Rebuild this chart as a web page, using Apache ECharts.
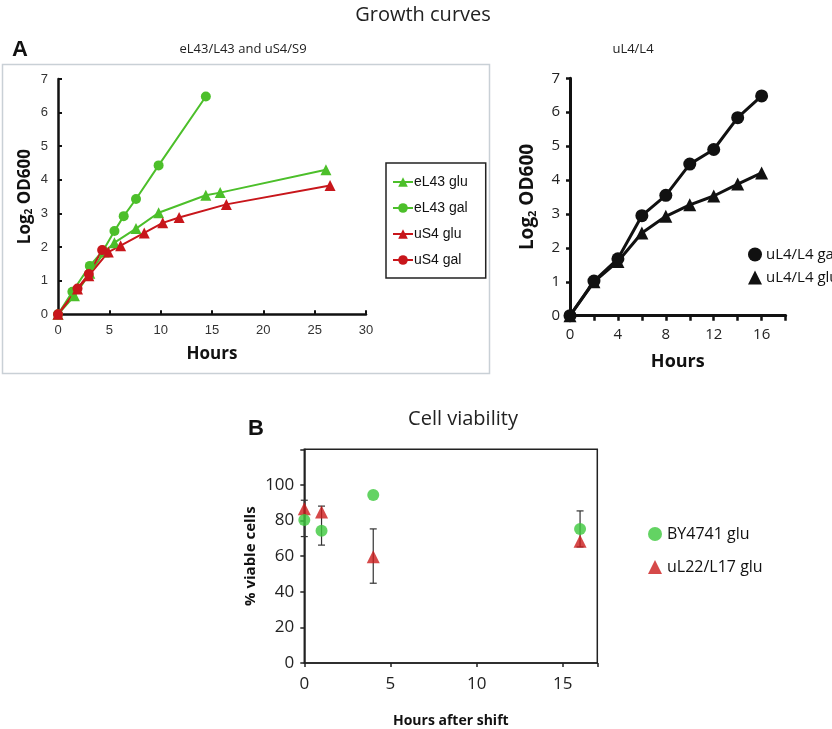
<!DOCTYPE html>
<html><head><meta charset="utf-8">
<script src="https://cdn.jsdelivr.net/npm/echarts@6/dist/echarts.min.js"></script>
<style>html,body{margin:0;padding:0;background:#fff}#c{width:832px;height:729px}</style>
</head><body><div id="c"></div>
<script>
// ---- Panel A left: eL43/L43 and uS4/S9 ----
var eL43GluX = [0, 1.6, 3.1, 4.5, 5.5, 7.6, 9.8, 14.4, 15.8, 26.1];
var eL43GluY = [0, 0.55, 1.22, 1.85, 2.13, 2.55, 3.02, 3.54, 3.62, 4.3];
var eL43GalX = [0, 1.4, 3.1, 4.4, 5.5, 6.4, 7.6, 9.8, 14.4];
var eL43GalY = [0, 0.67, 1.44, 1.9, 2.48, 2.92, 3.43, 4.43, 6.48];
var uS4GluX = [0, 1.9, 3.0, 4.9, 6.1, 8.4, 10.2, 11.8, 16.4, 26.5];
var uS4GluY = [0, 0.75, 1.15, 1.85, 2.04, 2.42, 2.72, 2.88, 3.27, 3.83];
var uS4GalX = [0, 1.9, 3.0, 4.3];
var uS4GalY = [0, 0.77, 1.2, 1.91];
// ---- Panel A right: uL4/L4 ----
var uL4Hours = [0, 2, 4, 6, 8, 10, 12, 14, 16];
var uL4Gal = [0, 1.02, 1.68, 2.95, 3.55, 4.47, 4.9, 5.84, 6.48];
var uL4Glu = [0, 1.0, 1.6, 2.44, 2.93, 3.27, 3.53, 3.88, 4.21];
// ---- Panel B: Cell viability ----
var viabHours = [0, 1, 4, 16];
var by4741 = [80.3, 74.3, 94.3, 75.2];
var uL22 = [86.6, 84.8, 59.7, 68.3];
var errLow = [71, 66.2, 44.8, 65.2];
var errHigh = [91.4, 88.1, 75.3, 85.4];

function zip(xs, ys) { return xs.map(function (x, i) { return [x, ys[i]]; }); }

var GREEN = '#4cbf2a', RED = '#c8161b', GREEN_B = '#3cc83c', RED_B = '#cc1c1c';
var SANS = '"Open Sans", "Noto Sans", sans-serif';
var ARIAL = '"Liberation Sans", Arial, sans-serif';

var chart = echarts.init(document.getElementById('c'), null, {renderer: 'canvas'});

function logRich(big, small) {
  return {
    a: {fontFamily: SANS, fontWeight: 'bold', fontSize: big, color: '#111'},
    s: {fontFamily: SANS, fontWeight: 'bold', fontSize: small, color: '#111', padding: [Math.round(big * 0.45), 0, 0, 0]}
  };
}

var option = {
  backgroundColor: '#fff',
  animation: false,
  title: [
    {text: 'Growth curves', left: 418, top: 0, textAlign: 'center', textStyle: {fontFamily: SANS, fontSize: 20, fontWeight: 'normal', color: '#222'}},
    {text: 'A', left: 7, top: 34, textStyle: {fontFamily: ARIAL, fontSize: 22, fontWeight: 'bold', color: '#111'}},
    {text: 'eL43/L43 and uS4/S9', left: 238, top: 38, textAlign: 'center', textStyle: {fontFamily: SANS, fontSize: 13, fontWeight: 'normal', color: '#222'}},
    {text: 'uL4/L4', left: 628, top: 38, textAlign: 'center', textStyle: {fontFamily: SANS, fontSize: 13, fontWeight: 'normal', color: '#222'}},
    {text: 'B', left: 243, top: 413, textStyle: {fontFamily: ARIAL, fontSize: 22, fontWeight: 'bold', color: '#111'}},
    {text: 'Cell viability', left: 458, top: 404, textAlign: 'center', textStyle: {fontFamily: SANS, fontSize: 20, fontWeight: 'normal', color: '#222'}}
  ],
  graphic: [
    {type: 'rect', shape: {x: 2.5, y: 64.5, width: 487, height: 309}, style: {fill: 'none', stroke: '#c9d0d6', lineWidth: 1.5}, z: 0}
  ],
  legend: [
    {
      data: ['eL43 glu', 'eL43 gal', 'uS4 glu', 'uS4 gal'],
      orient: 'vertical', left: 386, top: 163,
      padding: [12, 18, 11, 6],
      itemWidth: 20, itemHeight: 12, itemGap: 12,
      borderColor: '#222', borderWidth: 1.5, borderRadius: 0,
      textStyle: {fontFamily: ARIAL, fontSize: 14, color: '#111', padding: [0, 0, 0, -4]}
    },
    {
      data: [{name: 'uL4/L4 gal', icon: 'circle'}, {name: 'uL4/L4 glu', icon: 'triangle'}],
      orient: 'vertical', left: 743, top: 242,
      itemWidth: 14, itemHeight: 14, itemGap: 8,
      textStyle: {fontFamily: SANS, fontSize: 15, color: '#111', padding: [0, 0, 0, -1]}
    },
    {
      data: [{name: 'BY4741 glu', icon: 'circle'}, {name: 'uL22/L17 glu', icon: 'triangle'}],
      orient: 'vertical', left: 643, top: 521,
      itemWidth: 14, itemHeight: 14, itemGap: 17,
      textStyle: {fontFamily: SANS, fontSize: 16, color: '#111'}
    }
  ],
  grid: [
    {left: 58, top: 79, width: 308, height: 235.3},
    {left: 570, top: 78.3, width: 215.6, height: 237.4},
    {left: 304.3, top: 449.3, width: 293, height: 219.4, show: true, borderColor: '#222', borderWidth: 1.5, backgroundColor: 'transparent'}
  ],
  xAxis: [
    {gridIndex: 0, type: 'value', min: 0, max: 30, interval: 5,
      name: 'Hours', nameLocation: 'middle', nameGap: 31,
      nameTextStyle: {fontFamily: SANS, fontWeight: 'bold', fontSize: 17, color: '#111'},
      axisLine: {lineStyle: {color: '#111', width: 2.5}},
      axisTick: {inside: true, length: 4, lineStyle: {color: '#111', width: 2}},
      axisLabel: {fontFamily: ARIAL, fontSize: 13, color: '#333', margin: 10},
      splitLine: {show: false}},
    {gridIndex: 1, type: 'value', min: 0, max: 18, interval: 2,
      name: 'Hours', nameLocation: 'middle', nameGap: 37,
      nameTextStyle: {fontFamily: SANS, fontWeight: 'bold', fontSize: 18, color: '#111'},
      axisLine: {lineStyle: {color: '#111', width: 3}},
      axisTick: {length: 5, lineStyle: {color: '#111', width: 2.5}},
      axisLabel: {fontFamily: SANS, fontSize: 15, color: '#222', margin: 12,
        formatter: function (v) { return (v % 4 === 0 && v <= 16) ? String(v) : ''; }},
      splitLine: {show: false}},
    {gridIndex: 2, type: 'value', min: 0, max: 17, interval: 5,
      name: 'Hours after shift', nameLocation: 'middle', nameGap: 51,
      nameTextStyle: {fontFamily: SANS, fontWeight: 'bold', fontSize: 14, color: '#111'},
      axisLine: {onZero: false, lineStyle: {color: '#222', width: 1.5}},
      axisTick: {length: 4, lineStyle: {color: '#222', width: 1.5}},
      axisLabel: {fontFamily: SANS, fontSize: 17, color: '#222', margin: 13,
        formatter: function (v) { return v > 15 ? '' : String(v); }},
      splitLine: {show: false}}
  ],
  yAxis: [
    {gridIndex: 0, type: 'value', min: 0, max: 7, interval: 1,
      name: '{a|Log}{s|2}{a| OD600}', nameLocation: 'middle', nameGap: 24, nameRotate: 90,
      nameTextStyle: {rich: logRich(17, 10)},
      axisLine: {lineStyle: {color: '#111', width: 2.5}},
      axisTick: {inside: true, length: 4, lineStyle: {color: '#111', width: 2}},
      axisLabel: {fontFamily: ARIAL, fontSize: 13, color: '#333', margin: 10},
      splitLine: {show: false}},
    {gridIndex: 1, type: 'value', min: 0, max: 7, interval: 1,
      name: '{a|Log}{s|2}{a| OD600}', nameLocation: 'middle', nameGap: 32, nameRotate: 90,
      nameTextStyle: {rich: logRich(19, 11)},
      axisLine: {lineStyle: {color: '#111', width: 3}},
      axisTick: {length: 4, lineStyle: {color: '#111', width: 2.5}},
      axisLabel: {fontFamily: SANS, fontSize: 15, color: '#222', margin: 10},
      splitLine: {show: false}},
    {gridIndex: 2, type: 'value', min: 0, max: 120, interval: 20,
      name: '% viable cells', nameLocation: 'middle', nameGap: 46, nameRotate: 90,
      nameTextStyle: {fontFamily: SANS, fontWeight: 'bold', fontSize: 15, color: '#111'},
      axisLine: {lineStyle: {color: '#222', width: 1.5}},
      axisTick: {length: 4, lineStyle: {color: '#222', width: 1.5}},
      axisLabel: {fontFamily: SANS, fontSize: 17, color: '#222', margin: 10,
        formatter: function (v) { return v > 100 ? '' : String(v); }},
      splitLine: {show: false}}
  ],
  series: [
    {name: 'eL43 glu', type: 'line', xAxisIndex: 0, yAxisIndex: 0, data: zip(eL43GluX, eL43GluY),
      symbol: 'triangle', symbolSize: 11, color: GREEN, lineStyle: {width: 2, color: GREEN}, itemStyle: {color: GREEN}},
    {name: 'eL43 gal', type: 'line', xAxisIndex: 0, yAxisIndex: 0, data: zip(eL43GalX, eL43GalY),
      symbol: 'circle', symbolSize: 10, color: GREEN, lineStyle: {width: 2, color: GREEN}, itemStyle: {color: GREEN}},
    {name: 'uS4 glu', type: 'line', xAxisIndex: 0, yAxisIndex: 0, data: zip(uS4GluX, uS4GluY),
      symbol: 'triangle', symbolSize: 11, color: RED, lineStyle: {width: 2, color: RED}, itemStyle: {color: RED}},
    {name: 'uS4 gal', type: 'line', xAxisIndex: 0, yAxisIndex: 0, data: zip(uS4GalX, uS4GalY),
      symbol: 'circle', symbolSize: 10, color: RED, lineStyle: {width: 2, color: RED}, itemStyle: {color: RED}},

    {name: 'uL4/L4 glu', type: 'line', xAxisIndex: 1, yAxisIndex: 1, data: zip(uL4Hours, uL4Glu),
      symbol: 'triangle', symbolSize: 13, color: '#111', lineStyle: {width: 3, color: '#111'}, itemStyle: {color: '#111'}},
    {name: 'uL4/L4 gal', type: 'line', xAxisIndex: 1, yAxisIndex: 1, data: zip(uL4Hours, uL4Gal),
      symbol: 'circle', symbolSize: 13, color: '#111', lineStyle: {width: 3, color: '#111'}, itemStyle: {color: '#111'}},

    {name: 'errbars', type: 'custom', xAxisIndex: 2, yAxisIndex: 2,
      data: viabHours.map(function (h, i) { return [h, errLow[i], errHigh[i]]; }),
      renderItem: function (params, api) {
        var lo = api.coord([api.value(0), api.value(1)]);
        var hi = api.coord([api.value(0), api.value(2)]);
        var w = 3.5;
        var st = {stroke: '#333', lineWidth: 1.2};
        return {type: 'group', children: [
          {type: 'line', shape: {x1: lo[0], y1: lo[1], x2: hi[0], y2: hi[1]}, style: st},
          {type: 'line', shape: {x1: lo[0] - w, y1: lo[1], x2: lo[0] + w, y2: lo[1]}, style: st},
          {type: 'line', shape: {x1: hi[0] - w, y1: hi[1], x2: hi[0] + w, y2: hi[1]}, style: st}
        ]};
      }, z: 1, silent: true},
    {name: 'uL22/L17 glu', type: 'scatter', xAxisIndex: 2, yAxisIndex: 2, data: zip(viabHours, uL22),
      symbol: 'triangle', symbolSize: 13, itemStyle: {color: RED_B}, color: RED_B, z: 3},
    {name: 'BY4741 glu', type: 'scatter', xAxisIndex: 2, yAxisIndex: 2, data: zip(viabHours, by4741),
      symbol: 'circle', symbolSize: 12, itemStyle: {color: GREEN_B}, color: GREEN_B, z: 4}
  ]
};
chart.setOption(option);
</script></body></html>
